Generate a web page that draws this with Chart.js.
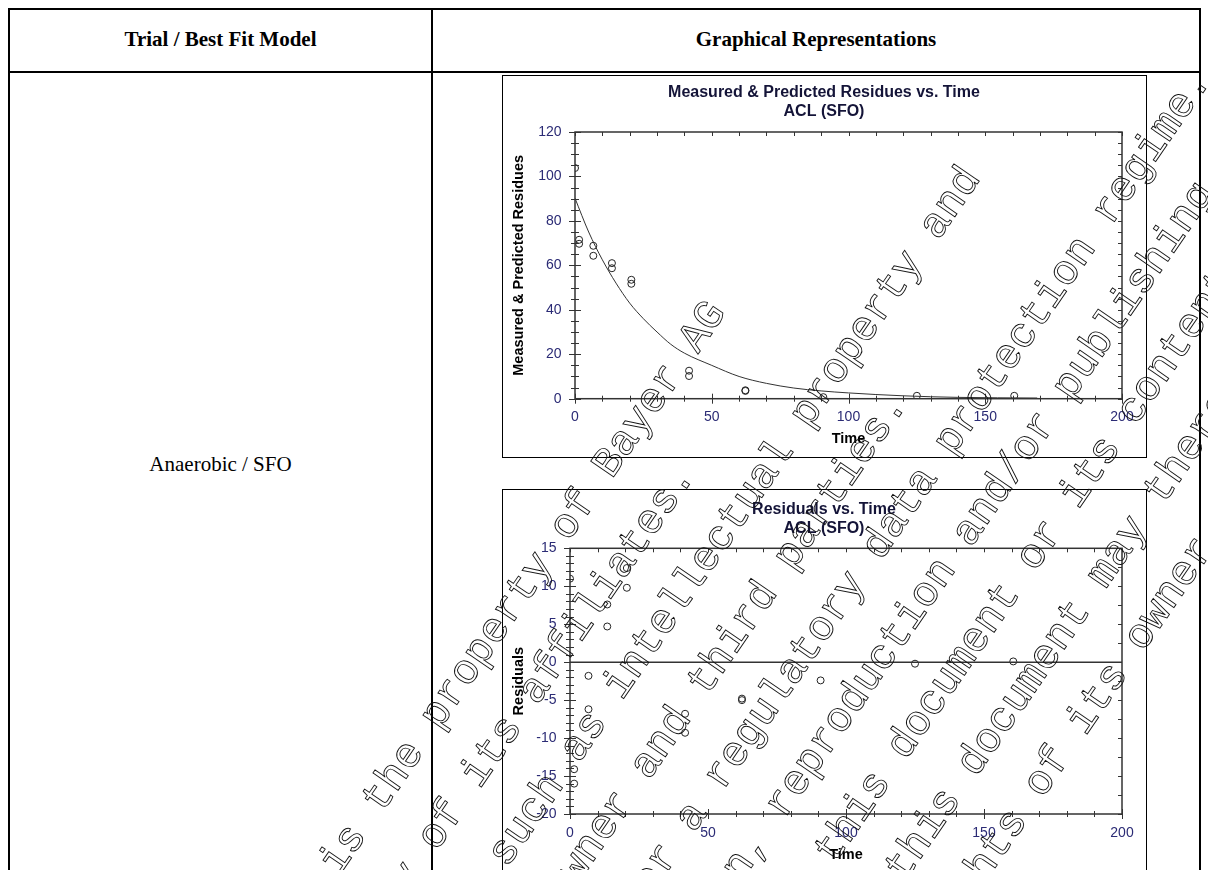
<!DOCTYPE html>
<html>
<head>
<meta charset="utf-8">
<script src="https://cdn.jsdelivr.net/npm/chart.js@4.4.1/dist/chart.umd.min.js"></script>
<style>
    html, body { margin: 0; padding: 0; background: #fff; }
    body { width: 1208px; height: 870px; overflow: hidden; position: relative; }
    .rule { position: absolute; background: #000; }
    .cell { position: absolute; font-family: "Liberation Serif", "Times New Roman", serif; color: #000; text-align: center; }
    .box { position: absolute; border: 1px solid #000; box-sizing: border-box; }
    canvas { position: absolute; }
    .mark { position: absolute; font-family: "Liberation Mono", "Courier New", monospace; font-size: 42.3px; line-height: 42.3px;
            white-space: pre; color: transparent; -webkit-text-stroke: 0.9px #111; pointer-events: none; }
</style>
</head>
<body>

<div class="rule" style="left:8px; top:8px; width:1193px; height:2px;"></div>
<div class="rule" style="left:8px; top:71px; width:1193px; height:2px;"></div>
<div class="rule" style="left:8px; top:8px; width:2px; height:870px;"></div>
<div class="rule" style="left:431px; top:8px; width:2px; height:870px;"></div>
<div class="rule" style="left:1199px; top:8px; width:2px; height:870px;"></div>

<div class="cell" style="left:10px; width:421px; top:27px; font-size:21px; font-weight:bold;">Trial / Best Fit Model</div>
<div class="cell" style="left:433px; width:766px; top:27px; font-size:21px; font-weight:bold;">Graphical Representations</div>
<div class="cell" style="left:10px; width:421px; top:452px; font-size:21px;">Anaerobic / SFO</div>

<canvas id="residueChart" width="644" height="382" style="left:502px; top:75px;"></canvas>
<div class="box" style="left:502px; top:75px; width:645px; height:383px;"></div>

<canvas id="residualChart" width="644" height="381" style="left:502px; top:489px;"></canvas>
<div class="box" style="left:502px; top:489px; width:645px; height:400px;"></div>

<script>
// measured residues, ACL anaerobic (days / % of applied)
const measuredTime = [0, 1.5, 1.5, 6.7, 6.7, 13.5, 13.5, 20.6, 20.6, 41.7, 41.7, 62.3, 62.3, 90.8, 125, 160.6];
const measuredResidue = [103.8, 71.5, 69.7, 68.8, 64.3, 61.0, 58.7, 53.5, 51.7, 12.6, 10.2, 3.8, 3.5, 0.7, 1.3, 1.3];

// SFO curve
const fitTime = [0, 5, 10, 15, 20, 25, 30, 35, 40, 50, 60, 70, 80, 90, 100, 120, 140, 169];
const fitResidue = [90.2, 75, 62.5, 52, 43, 36, 30, 24.5, 20.5, 15, 10, 6.9, 4.8, 3.5, 2.6, 1.3, 0.6, 0.3];

// residuals (measured - predicted)
const residualTime = [0, 1.5, 1.5, 6.7, 6.7, 13.5, 13.5, 20.6, 20.6, 41.7, 41.7, 62.3, 62.3, 90.8, 125, 160.6];
const residualValue = [11.0, -14.1, -16.0, -1.8, -6.2, 7.6, 4.7, 12.4, 9.8, -6.8, -9.3, -4.8, -5.0, -2.4, -0.2, 0.1];

// tick labels
const timeTicks = [0, 50, 100, 150, 200];
const residueTicks = [0, 20, 40, 60, 80, 100, 120];
const residualTicks = [-20, -15, -10, -5, 0, 5, 10, 15];

const SANS = '"Liberation Sans", Arial, sans-serif';
const TICK_COLOR = '#2b2b75';
const SIDE_PAD = 24;   // same padding left and right keeps the title centred on the box

function isMultiple(v, step)
{
    return Math.abs(v / step - Math.round(v / step)) < 1e-6;
}

// plot frame, zero line and the crossing / inner ticks of the old plotting tool
const frameTicks =
{
    id: 'frameTicks',
    afterDatasetsDraw(chart, args, opts)
    {
        const ctx = chart.ctx;
        const area = chart.chartArea;
        const xs = chart.scales.x;
        const ys = chart.scales.y;

        const seg = (x1, y1, x2, y2) =>
        {
            ctx.beginPath();
            ctx.moveTo(x1, y1);
            ctx.lineTo(x2, y2);
            ctx.stroke();
        };

        ctx.save();
        ctx.strokeStyle = '#333';
        ctx.lineWidth = 1.5;
        ctx.strokeRect(area.left, area.top, area.right - area.left, area.bottom - area.top);

        if (opts.zeroLine)
        {
            const zy = ys.getPixelForValue(0);
            seg(area.left, zy, area.right, zy);
        }

        ctx.lineWidth = 1;
        for (let v = xs.min; v <= xs.max + 1e-6; v += opts.xMinor)
        {
            const px = Math.round(xs.getPixelForValue(v)) + 0.5;
            const len = isMultiple(v, opts.xMajor) ? 5 : 3;
            seg(px, area.bottom - len, px, area.bottom + len);
            seg(px, area.top, px, area.top + 4);
        }

        for (let v = ys.min; v <= ys.max + 1e-6; v += opts.yMinor)
        {
            const py = Math.round(ys.getPixelForValue(v)) + 0.5;
            const len = isMultiple(v, opts.yMajor) ? 6 : 4;
            seg(area.left - len, py, area.left + len, py);
        }

        for (let v = ys.min; v <= ys.max + 1e-6; v += opts.yRight)
        {
            const py = Math.round(ys.getPixelForValue(v)) + 0.5;
            seg(area.right - 4, py, area.right, py);
        }
        ctx.restore();
    }
};

function points(xs, ys)
{
    return xs.map((x, i) => ({ x: x, y: ys[i] }));
}

function axis(min, max, tickValues, titleText, titlePadding, tickPadding, size)
{
    return {
        type: 'linear',
        min: min,
        max: max,
        afterBuildTicks: (scale) => { scale.ticks = tickValues.map(v => ({ value: v })); },
        afterFit: size,
        grid: { display: false, drawTicks: false },
        border: { display: false },
        ticks: { autoSkip: false, maxRotation: 0, padding: tickPadding, color: TICK_COLOR, font: { family: SANS, size: 14 } },
        title:
        {
            display: true,
            text: titleText,
            color: '#000',
            font: { family: SANS, size: 14.5, weight: 'bold', lineHeight: 1.2 },
            padding: titlePadding
        }
    };
}

function baseOptions(titleLines, titlePadding, ticks, xAxis, yAxis)
{
    return {
        responsive: false,
        animation: false,
        events: [],
        layout: { padding: { left: SIDE_PAD, right: SIDE_PAD, top: 0, bottom: 0 } },
        plugins:
        {
            legend: { display: false },
            tooltip: { enabled: false },
            title:
            {
                display: true,
                text: titleLines,
                color: '#141438',
                font: { family: SANS, size: 16, weight: 'bold', lineHeight: 1.1875 },
                padding: titlePadding
            },
            frameTicks: ticks
        },
        scales: { x: xAxis, y: yAxis }
    };
}

const lineStyle = { showLine: true, borderColor: '#333', borderWidth: 1, pointRadius: 0, cubicInterpolationMode: 'monotone' };
const dotStyle = { showLine: false, pointRadius: 3.5, pointBorderWidth: 1, pointBorderColor: '#222', pointBackgroundColor: 'rgba(0,0,0,0)' };

new Chart(document.getElementById('residueChart'),
{
    type: 'scatter',
    data:
    {
        datasets:
        [
            Object.assign({ data: points(fitTime, fitResidue) }, lineStyle),
            Object.assign({ data: points(measuredTime, measuredResidue) }, dotStyle)
        ]
    },
    options: baseOptions(
        ['Measured & Predicted Residues vs. Time', 'ACL (SFO)'],
        { top: 8.5, bottom: 10.5 },
        { xMajor: 50, xMinor: 10, yMajor: 20, yMinor: 5, yRight: 5, zeroLine: false },
        axis(0, 200, timeTicks, 'Time', { top: 0, bottom: 9.3 }, 9.6, (s) => { s.height = 58.3; }),
        axis(0, 120, residueTicks, 'Measured & Predicted Residues', { top: 8.3 - SIDE_PAD, bottom: 0 }, 13.5, (s) => { s.width = 73 - SIDE_PAD; })
    ),
    plugins: [frameTicks]
});

new Chart(document.getElementById('residualChart'),
{
    type: 'scatter',
    data:
    {
        datasets:
        [
            Object.assign({ data: points(residualTime, residualValue) }, dotStyle)
        ]
    },
    options: baseOptions(
        ['Residuals vs. Time', 'ACL (SFO)'],
        { top: 11.5, bottom: 9.8 },
        { xMajor: 50, xMinor: 10, yMajor: 5, yMinor: 1, yRight: 2.5, zeroLine: true },
        axis(0, 200, timeTicks, 'Time', { top: 0, bottom: 6.3 }, 10.6, (s) => { s.height = 56; }),
        axis(-20, 15, residualTicks, 'Residuals', { top: 8.3 - SIDE_PAD, bottom: 0 }, 13.5, (s) => { s.width = 68 - SIDE_PAD; })
    ),
    plugins: [frameTicks]
});

// diagonal outlined watermark, one centred line each
const MARK_ANGLE = 55.5;
const markLines =
[
    ['This document is the property of Bayer AG', 765, -366],
    ['and/or any of its affiliates.', 832, -366],
    ['It may be subject to rights such as intellectual property and', 899, -365],
    ['copyright of the owner and third parties.', 966, -340],
    ['Furthermore, this document may fall under a regulatory data protection regime.', 1033, -370],
    ['Consequently, any publication, distribution, reproduction and/or publishing and', 1100, -371],
    ['any commercial exploitation and use of this document or its contents', 1167, -368],
    ['without the permission of the owner of this document may therefore', 1234, -368],
    ['be prohibited and violate the rights of its owner.', 1301, -373]
];

const rad = MARK_ANGLE * Math.PI / 180;
for (const [text, p, s] of markLines)
{
    const span = document.createElement('div');
    span.className = 'mark';
    span.textContent = text;
    const cx = p * Math.sin(rad) + s * Math.cos(rad);
    const cy = p * Math.cos(rad) - s * Math.sin(rad);
    span.style.left = cx + 'px';
    span.style.top = cy + 'px';
    span.style.transform = `translate(-50%, -50%) rotate(-${MARK_ANGLE}deg)`;
    document.body.appendChild(span);
}
</script>
</body>
</html>
